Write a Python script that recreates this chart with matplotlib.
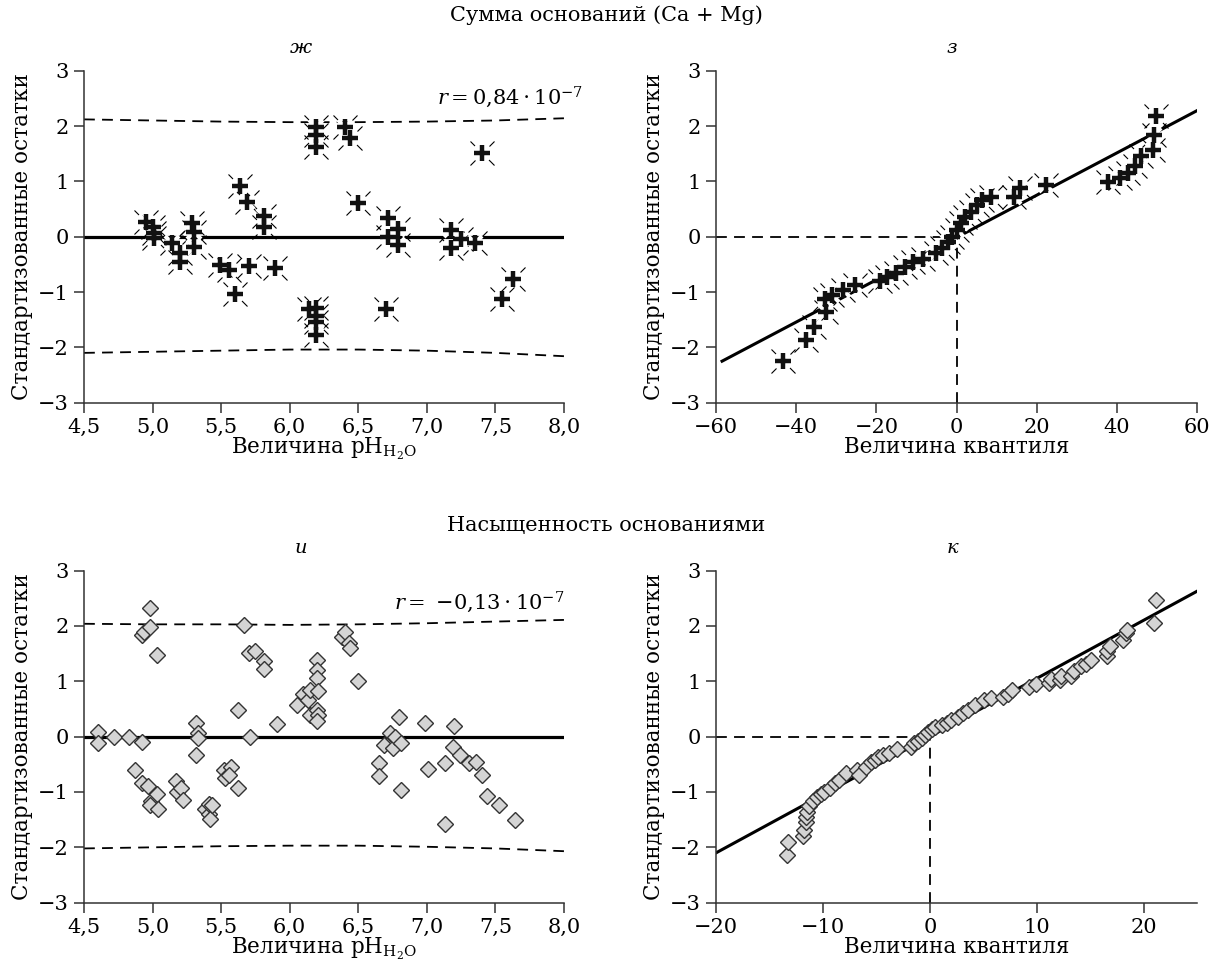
import matplotlib
matplotlib.use('Agg')
import matplotlib.pyplot as plt

plt.rcParams['font.family'] = ['DejaVu Serif']
plt.rcParams['mathtext.fontset'] = 'dejavuserif'

# --- panel ж: residuals vs pH, sum of bases (Ca + Mg)
ph_zh = [4.95, 5.00, 5.01, 5.01, 5.14, 5.20, 5.20, 5.29, 5.30, 5.30, 5.49, 5.56,
         5.70, 5.89, 5.60, 5.64, 5.69, 5.81, 5.81, 6.19, 6.19, 6.19, 6.40, 6.44,
         6.50, 7.40, 6.14, 6.19, 6.19, 6.19, 6.19, 6.70, 6.72, 6.72, 6.79, 6.79,
         7.18, 7.18, 7.25, 7.35, 7.55, 7.63]
res_zh = [0.27, 0.18, 0.06, -0.03, -0.11, -0.30, -0.46, 0.24, 0.09, -0.18, -0.52, -0.61,
          -0.53, -0.57, -1.04, 0.91, 0.63, 0.37, 0.18, 1.98, 1.83, 1.62, 1.98, 1.78,
          0.61, 1.52, -1.31, -1.28, -1.43, -1.55, -1.77, -1.31, 0.34, 0.00, 0.13, -0.15,
          0.12, -0.21, -0.05, -0.11, -1.12, -0.76]
band_x = [4.5, 5.0, 5.5, 6.0, 6.5, 7.0, 7.5, 8.0]
upper_zh = [2.12, 2.10, 2.08, 2.07, 2.07, 2.08, 2.10, 2.14]
lower_zh = [-2.10, -2.08, -2.06, -2.04, -2.04, -2.06, -2.10, -2.16]

# --- panel з: Q-Q plot, sum of bases
q_z = [-43.3, -37.6, -35.5, -32.6, -32.8, -31.2, -28.3, -25.4, -19.2, -17.3, -15.0,
       -12.9, -10.9, -8.5, -5.1, -3.6, -2.1, -1.2, 0.0, 1.0, 2.2, 3.5, 5.2, 6.4, 8.6,
       14.4, 15.7, 22.4, 37.8, 40.7, 42.7, 44.4, 46.1, 48.9, 49.1, 49.6]
res_z = [-2.25, -1.86, -1.63, -1.36, -1.12, -1.06, -0.97, -0.88, -0.81, -0.72, -0.66,
         -0.54, -0.45, -0.41, -0.30, -0.21, -0.09, 0.0, 0.12, 0.24, 0.36, 0.45, 0.57, 0.66, 0.72,
         0.72, 0.88, 0.94, 0.98, 1.06, 1.15, 1.27, 1.45, 1.57, 1.84, 2.18]
line_z_x = [-58.5, 60]
line_z_y = [-2.25, 2.28]

# --- panel и: residuals vs pH, base saturation
ph_i = [4.60, 4.60, 4.72, 4.83, 4.92, 4.87, 4.92, 4.97, 4.99, 4.98, 5.03, 5.04,
        4.92, 4.94, 4.98, 4.98, 5.03, 5.17, 5.18, 5.21, 5.22, 5.32, 5.33, 5.33, 5.32,
        5.38, 5.41, 5.41, 5.42, 5.43, 5.52, 5.53, 5.57, 5.56, 5.62, 5.62, 5.67, 5.70,
        5.75, 5.81, 5.81, 5.71, 5.91, 6.05, 6.10, 6.13, 6.15, 6.15, 6.20, 6.20, 6.20,
        6.21, 6.20, 6.21, 6.20, 6.38, 6.40, 6.43, 6.44, 6.50, 6.65, 6.65, 6.69, 6.73,
        6.75, 6.77, 6.80, 6.81, 6.81, 6.99, 7.01, 7.13, 7.13, 7.19, 7.20, 7.24, 7.31,
        7.36, 7.40, 7.44, 7.53, 7.64]
res_i = [0.08, -0.12, 0.00, 0.00, -0.09, -0.60, -0.84, -0.90, -1.16, -1.24, -1.03, -1.30,
         1.84, 1.90, 1.99, 2.32, 1.48, -0.81, -1.00, -0.93, -1.15, 0.24, 0.06, -0.02, -0.33,
         -1.30, -1.39, -1.21, -1.48, -1.24, -0.60, -0.75, -0.54, -0.69, -0.93, 0.48, 2.01, 1.51,
         1.54, 1.36, 1.22, 0.00, 0.23, 0.57, 0.78, 0.66, 0.84, 0.39, 1.39, 1.21, 1.06,
         0.83, 0.48, 0.39, 0.29, 1.81, 1.90, 1.69, 1.60, 1.01, -0.47, -0.72, -0.15, 0.07,
         -0.21, 0.00, 0.36, -0.12, -0.96, 0.24, -0.59, -0.48, -1.57, -0.18, 0.19, -0.33, -0.48,
         -0.45, -0.70, -1.08, -1.24, -1.50]
upper_i = [2.04, 2.03, 2.03, 2.02, 2.03, 2.05, 2.08, 2.11]
lower_i = [-2.02, -2.00, -1.98, -1.97, -1.97, -1.99, -2.02, -2.07]

# --- panel к: Q-Q plot, base saturation
q_k = [-13.4, -13.3, -11.9, -11.8, -11.6, -11.6, -11.5, -11.3, -10.9, -10.6, -10.2,
       -9.9, -9.3, -8.9, -8.5, -7.8, -6.8, -6.6, -6.0, -5.5, -5.1, -4.9, -4.4, -3.8,
       -3.1, -1.8, -1.5, -1.1, -0.7, -0.5, -0.2, 0.2, 0.5, 1.1, 1.6, 2.0, 2.6, 3.1,
       3.6, 4.2, 5.1, 5.7, 6.8, 7.3, 7.7, 9.3, 9.9, 11.1, 11.3, 12.2, 12.3, 13.2,
       13.5, 14.1, 14.6, 15.1, 16.6, 16.6, 16.8, 18.1, 18.3, 18.4, 21.0, 21.1]
res_k = [-2.13, -1.90, -1.80, -1.69, -1.54, -1.45, -1.36, -1.25, -1.16, -1.09, -1.03,
         -1.00, -0.93, -0.84, -0.78, -0.66, -0.60, -0.69, -0.54, -0.45, -0.42, -0.37, -0.33, -0.29,
         -0.23, -0.18, -0.12, -0.07, -0.03, 0.03, 0.09, 0.13, 0.17, 0.21, 0.25, 0.30, 0.36, 0.42,
         0.48, 0.57, 0.66, 0.69, 0.72, 0.78, 0.84, 0.89, 0.95, 0.97, 1.04, 1.03, 1.10, 1.10,
         1.18, 1.27, 1.31, 1.39, 1.45, 1.54, 1.63, 1.75, 1.87, 1.92, 2.06, 2.47]
line_k_x = [-20, 25]
line_k_y = [-2.10, 2.63]

ph_ticks = [4.5, 5.0, 5.5, 6.0, 6.5, 7.0, 7.5, 8.0]
ph_labels = ['4,5', '5,0', '5,5', '6,0', '6,5', '7,0', '7,5', '8,0']
y_ticks = [-3, -2, -1, 0, 1, 2, 3]
y_labels = ['\u22123', '\u22122', '\u22121', '0', '1', '2', '3']
qz_ticks = [-60, -40, -20, 0, 20, 40, 60]
qz_labels = ['\u221260', '\u221240', '\u221220', '0', '20', '40', '60']
qk_ticks = [-20, -10, 0, 10, 20]
qk_labels = ['\u221220', '\u221210', '0', '10', '20']

YLAB = 'Стандартизованные остатки'
PH_LAB = r'Величина pH$_{\mathregular{H_2O}}$'
Q_LAB = 'Величина квантиля'

fig = plt.figure(figsize=(12.12, 9.75), dpi=100)
ax_zh = fig.add_axes([0.0693, 0.587, 0.396, 0.3405])
ax_z = fig.add_axes([0.5908, 0.587, 0.397, 0.3405])
ax_i = fig.add_axes([0.0693, 0.0742, 0.396, 0.3405])
ax_k = fig.add_axes([0.5908, 0.0742, 0.397, 0.3405])


def style_axes(ax, xlim, xticks, xlabels, xlab):
    ax.set_xlim(*xlim)
    ax.set_ylim(-3, 3)
    ax.set_xticks(xticks)
    ax.set_xticklabels(xlabels)
    ax.set_yticks(y_ticks)
    ax.set_yticklabels(y_labels)
    for s in ['top', 'right']:
        ax.spines[s].set_visible(False)
    for s in ['left', 'bottom']:
        ax.spines[s].set_color('#333333')
        ax.spines[s].set_linewidth(1.1)
    ax.tick_params(direction='out', length=7, width=1.1, color='#333333',
                   labelsize=15, pad=4)
    ax.set_ylabel(YLAB, fontsize=15.5)
    ax.yaxis.set_label_coords(-0.107, 0.5)
    ax.set_xlabel(xlab, fontsize=15.5)
    ax.xaxis.set_label_coords(0.5, -0.1)


def star_points(ax, x, y):
    # thin diagonal strokes with a gap, then a heavy plus sign
    ax.plot(x, y, ls='none', marker='x', ms=17, mew=0.8, color='black', zorder=3)
    ax.plot(x, y, ls='none', marker='x', ms=10, mew=3, color='white', zorder=4)
    ax.plot(x, y, ls='none', marker='+', ms=12, mew=3.2, color='#111111', zorder=5)


def diamond_points(ax, x, y):
    ax.plot(x, y, ls='none', marker='D', ms=8.5, mfc='#d4d4d4', mec='#333333',
            mew=1.0, zorder=3)


dash = (0, (6, 4))

# ж
ax = ax_zh
ax.axhline(0, color='black', lw=2.3, zorder=2)
ax.plot(band_x, upper_zh, color='black', lw=1.3, ls=dash)
ax.plot(band_x, lower_zh, color='black', lw=1.3, ls=dash)
star_points(ax, ph_zh, res_zh)
style_axes(ax, (4.5, 8.0), ph_ticks, ph_labels, PH_LAB)
ax.text(1.04, 0.92, r'$r = 0{,}84\cdot10^{-7}$', transform=ax.transAxes,
        ha='right', va='center', fontsize=15)

# з
ax = ax_z
ax.plot([-60, 0], [0, 0], color='black', lw=1.3, ls=dash)
ax.plot([0, 0], [-3, 0], color='black', lw=1.3, ls=dash)
ax.plot(line_z_x, line_z_y, color='black', lw=2.2, zorder=2)
star_points(ax, q_z, res_z)
style_axes(ax, (-60, 60), qz_ticks, qz_labels, Q_LAB)

# и
ax = ax_i
ax.axhline(0, color='black', lw=2.3, zorder=2)
ax.plot(band_x, upper_i, color='black', lw=1.3, ls=dash)
ax.plot(band_x, lower_i, color='black', lw=1.3, ls=dash)
diamond_points(ax, ph_i, res_i)
style_axes(ax, (4.5, 8.0), ph_ticks, ph_labels, PH_LAB)
ax.text(1.0, 0.905, r'$r =\ {-}0{,}13\cdot10^{-7}$',
        transform=ax.transAxes, ha='right', va='center', fontsize=15)

# к
ax = ax_k
ax.plot([-20, 0], [0, 0], color='black', lw=1.3, ls=dash)
ax.plot([0, 0], [-3, 0], color='black', lw=1.3, ls=dash)
ax.plot(line_k_x, line_k_y, color='black', lw=2.2, zorder=2)
diamond_points(ax, q_k, res_k)
style_axes(ax, (-20, 25), qk_ticks, qk_labels, Q_LAB)

# headings
fig.text(0.5, 1 - 15 / 975, 'Сумма оснований (Ca + Mg)', ha='center', va='center', fontsize=15)
fig.text(0.5, 1 - 525 / 975, 'Насыщенность основаниями', ha='center', va='center', fontsize=15)
fig.text(301 / 1212, 1 - 48 / 975, 'ж', ha='center', va='center', fontsize=14, style='italic')
fig.text(952 / 1212, 1 - 48 / 975, 'з', ha='center', va='center', fontsize=14, style='italic')
fig.text(301 / 1212, 1 - 548 / 975, 'и', ha='center', va='center', fontsize=14, style='italic')
fig.text(952 / 1212, 1 - 548 / 975, 'к', ha='center', va='center', fontsize=14, style='italic')

fig.savefig('out.png', dpi=100)
